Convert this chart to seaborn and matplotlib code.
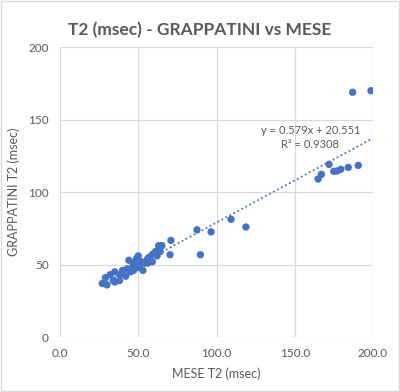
import numpy as np
import pandas as pd
import matplotlib
matplotlib.use("Agg")
import matplotlib.pyplot as plt
import seaborn as sns

# MESE T2 vs GRAPPATINI T2 (msec)
mese = [27, 30, 29, 32, 34, 35, 38, 40, 38, 42, 43, 45, 47, 48, 46, 49, 51, 50, 52, 54,
        56, 57, 59, 61, 59, 63, 65, 64, 62, 53, 56, 47, 35, 44, 49, 50, 65.0, 70.9, 70.3,
        87.5, 96.5, 89.7, 109.3, 118.8, 164.9, 167.0, 171.9, 174.9, 177.0, 179.4, 184.2,
        190.6, 187.0, 198.7]
grappatini = [37, 36, 41, 43, 39, 45, 43, 46, 39, 42, 47, 45, 50, 52, 48, 54, 50, 48, 52, 51,
              54, 55, 57, 59, 52, 63, 63, 59, 56, 46, 51, 46, 38, 53, 54, 56, 63.0, 66.7, 56.8,
              74.0, 72.6, 56.8, 81.2, 75.9, 109.0, 112.2, 119.1, 114.3, 114.5, 115.7, 117.0,
              118.4, 168.8, 169.9]

df = pd.DataFrame({"MESE": mese, "GRAPPATINI": grappatini})

blue = "#4472C4"
grey = "#595959"

plt.rcParams["font.family"] = ["Lato", "DejaVu Sans"]

fig = plt.figure(figsize=(4, 3.92), dpi=100)
ax = fig.add_axes([0.15, 0.14, 0.7825, 0.74])

sns.regplot(x="MESE", y="GRAPPATINI", data=df, ax=ax, ci=None,
            scatter_kws={"s": 28, "color": blue, "edgecolor": "none", "alpha": 1, "zorder": 3},
            line_kws={"color": blue, "linestyle": (0, (1, 1.5)), "linewidth": 1.3, "zorder": 2})

ax.set_xlim(0, 200)
ax.set_ylim(0, 200)
ax.set_xticks([0, 50, 100, 150, 200])
ax.set_xticklabels(["0.0", "50.0", "100.0", "150.0", "200.0"])
ax.set_yticks([0, 50, 100, 150, 200])
ax.grid(True, color="#D9D9D9", linewidth=0.9)
ax.set_axisbelow(True)
for s in ax.spines.values():
    s.set_visible(False)
ax.tick_params(length=0, labelsize=8.5, colors=grey, pad=8)
ax.set_xlabel("MESE T2 (msec)", fontsize=9, color=grey, labelpad=6)
ax.set_ylabel("GRAPPATINI T2 (msec)", fontsize=9, color=grey, labelpad=6)

ax.text(160, 146, "y = 0.579x + 20.551\nR² = 0.9308", fontsize=8, color=grey,
        ha="center", va="top", linespacing=1.3)

fig.suptitle("T2 (msec) - GRAPPATINI vs MESE", x=0.5, y=0.945, fontsize=12.5,
             fontweight="bold", color=grey)

# light chart border like the source
fig.patches.append(plt.Rectangle((0.003, 0.003), 0.994, 0.994, transform=fig.transFigure,
                                 fill=False, edgecolor="#D9D9D9", linewidth=1))

fig.savefig("out.png", dpi=100)
